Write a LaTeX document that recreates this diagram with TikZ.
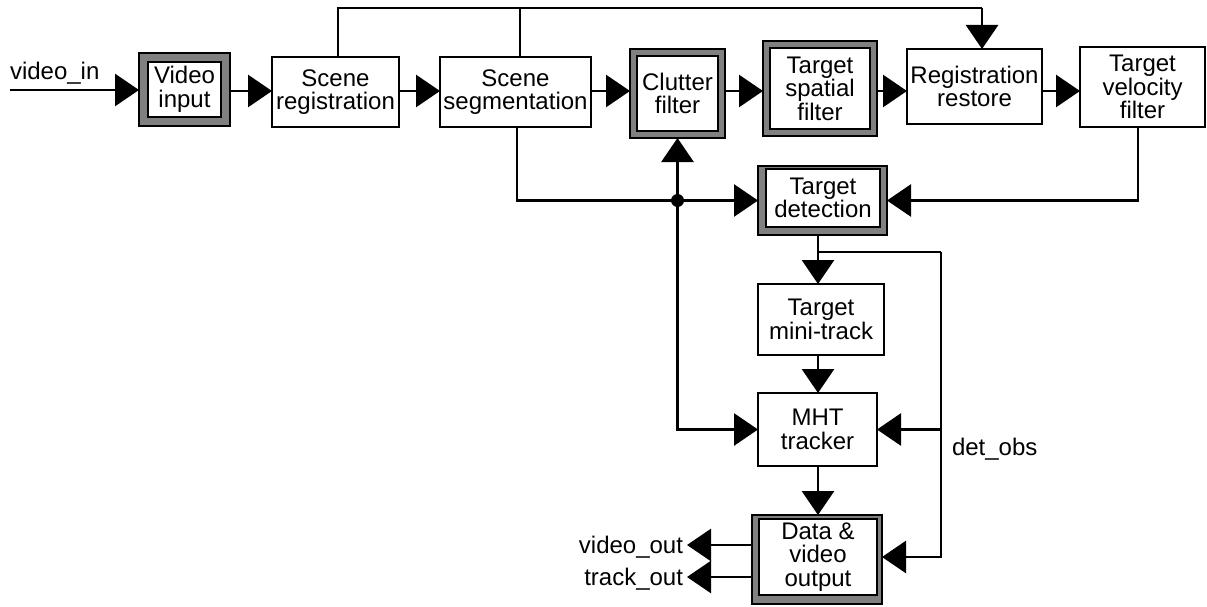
\documentclass[tikz,border=0pt]{standalone}
\usepackage{fontspec}
\setmainfont{Liberation Sans}
\usetikzlibrary{arrows.meta}
\definecolor{bandgray}{RGB}{128,128,128}
\begin{document}
\begin{tikzpicture}[x=1pt,y=-1pt,
  line width=2.8pt,
  every node/.style={font=\fontsize{24}{23.5}\selectfont, align=center, inner sep=0pt, outer sep=0pt},
  blk/.style={draw, fill=white, line width=2.8pt},
  shell/.style={draw, fill=bandgray, line width=2.8pt},
  arr/.style={-{Triangle[length=24pt,width=32pt]}},
  lbl/.style={font=\fontsize{24}{24}\selectfont},
]
\useasboundingbox (0,0) rectangle (1207,607);

% ---- processing blocks ----
\node[shell, minimum width=91pt, minimum height=73pt] (vin) at (184.5,89.5) {};
\node[blk, minimum width=73pt, minimum height=55pt] (vinT) at (vin.center) {Video\\input};

\node[blk, minimum width=127pt, minimum height=70pt] (sreg) at (335.5,92) {Scene\\registration};
\node[blk, minimum width=151pt, minimum height=70pt] (sseg) at (515.5,92) {Scene\\segmentation};

\node[shell, minimum width=95pt, minimum height=89pt] (clut) at (677.5,93.5) {};
\node[blk, minimum width=81pt, minimum height=75pt] (clutT) at (clut.center) {Clutter\\filter};

\node[shell, minimum width=114pt, minimum height=95pt] (tsf) at (820,88.5) {};
\node[blk, minimum width=100pt, minimum height=81pt] (tsfT) at (tsf.center) {Target\\spatial\\filter};

\node[blk, minimum width=135pt, minimum height=75pt] (rreg) at (974.5,86.5) {Registration\\restore};
\node[blk, minimum width=125pt, minimum height=80pt] (tvf) at (1142.5,87) {Target\\velocity\\filter};

\node[shell, minimum width=129pt, minimum height=69pt] (tdet) at (822.5,200.5) {};
\node[blk, minimum width=114pt, minimum height=58pt] (tdetT) at (823,198) {Target\\detection};

\node[blk, minimum width=126pt, minimum height=71pt] (mini) at (821,319.5) {Target\\mini-track};
\node[blk, minimum width=119pt, minimum height=73pt] (mht) at (817.5,429.5) {MHT\\tracker};

\node[shell, minimum width=130pt, minimum height=89pt] (dout) at (817,559.5) {};
\node[blk, minimum width=118pt, minimum height=76pt] (doutT) at (818,557) {Data \&\\video\\output};

% ---- signal labels ----
\node[lbl, anchor=base west] (vinl) at (10,80) {video\_in};
\node[lbl, anchor=base east] (voutl) at (683,553) {video\_out};
\node[lbl, anchor=base east] (toutl) at (683,585) {track\_out};
\node[lbl, anchor=base west] (detl) at (952,455) {det\_obs};

% ---- helper points ----
\coordinate (inp) at (10,90);
\coordinate (row) at (0,91);
\coordinate (tr) at (982,8);
\coordinate (j) at (clut.south |- tdet.west);
\coordinate (c1) at (818,252);
\coordinate (c2) at (941,252);
\coordinate (vo) at (687,545);
\coordinate (to) at (687,577);

% ---- main chain ----
\draw[arr] (inp) -- (inp -| vin.west);
\draw[arr] (vin.east |- row) -- (sreg.west |- row);
\draw[arr] (sreg.east |- row) -- (sseg.west |- row);
\draw[arr] (sseg.east |- row) -- (clut.west |- row);
\draw[arr] (clut.east |- row) -- (tsf.west |- row);
\draw[arr] (tsf.east |- row) -- (rreg.west |- row);
\draw[arr] (rreg.east |- row) -- (tvf.west |- row);

% ---- registration feed-forward over the top ----
\draw ([xshift=2.5pt]sreg.north) |- (tr);
\draw ([xshift=4.5pt]sseg.north) -- ([xshift=4.5pt]sseg.north |- tr);
\draw[arr] (tr) -- (tr |- rreg.north);

% ---- detection inputs ----
\draw[arr] ([xshift=1.5pt]sseg.south) |- (tdet.west);
\draw[arr] ([xshift=-4.5pt]tvf.south) |- (tdet.east);
\draw[arr] (j) -- (clut.south);
\draw[arr] (j) |- (mht.west);
\fill (j) circle (6.5pt);

% ---- tracking chain ----
\draw[arr] (tdet.south -| c1) -- (mini.north -| c1);
\draw[arr] (mini.south -| c1) -- (mht.north -| c1);
\draw[arr] (mht.south -| c1) -- (dout.north -| c1);
\draw (c1) -- (c2);
\draw[arr] (c2) |- (dout.east |- 0,557);
\draw[arr] (c2 |- mht.east) -- (mht.east);

% ---- outputs ----
\draw[arr] (dout.west |- vo) -- (vo);
\draw[arr] (dout.west |- to) -- (to);
\end{tikzpicture}
\end{document}
